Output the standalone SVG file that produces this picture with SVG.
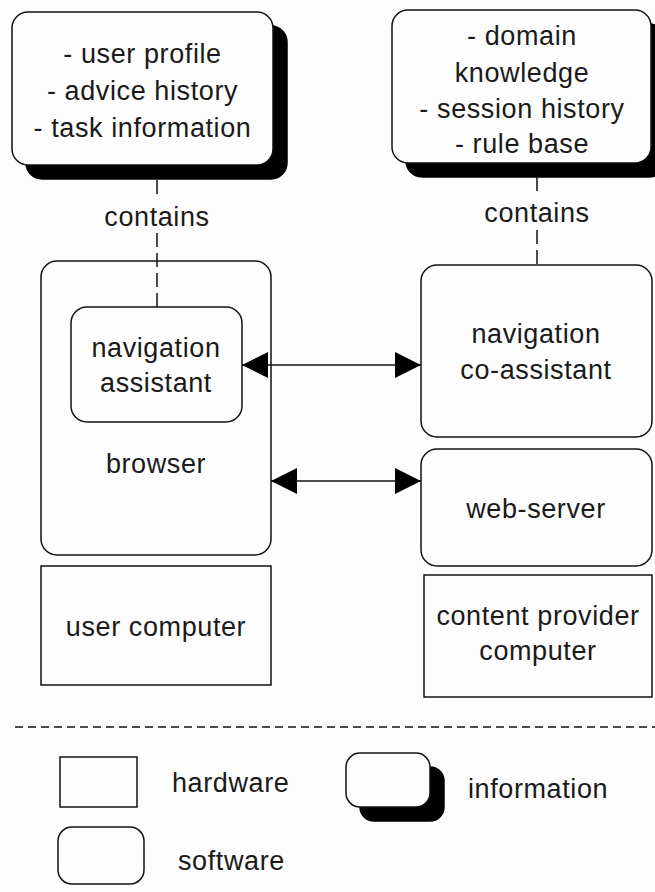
<svg xmlns="http://www.w3.org/2000/svg" width="655" height="892" viewBox="0 0 655 892">
<style>
.bg{fill:#fdfdfd}
.box{fill:#fdfdfd;stroke:#111;stroke-width:1.5}
.shadow{fill:#000;stroke:#000;stroke-width:1.5}
.t{font-family:"Liberation Sans",Arial,sans-serif;font-size:27px;fill:#1a1a1a;text-anchor:middle;letter-spacing:0.6px}
.tl{font-family:"Liberation Sans",Arial,sans-serif;font-size:27px;fill:#1a1a1a;letter-spacing:0.6px}
.dash{stroke:#111;stroke-width:1.5;stroke-dasharray:14 6;fill:none}
.arrow{stroke:#111;stroke-width:1.5;fill:none;marker-start:url(#ah);marker-end:url(#ah)}
</style>
<defs>
<marker id="ah" markerUnits="userSpaceOnUse" markerWidth="27" markerHeight="26" refX="26" refY="13" orient="auto-start-reverse">
<path d="M0,0 L26,13 L0,26 Z" fill="#000"/>
</marker>
</defs>
<rect class="bg" x="0" y="0" width="655" height="892"/>

<g id="info-user">
<rect class="shadow" x="26" y="26" width="261" height="153" rx="16"/>
<rect class="box" x="12" y="12" width="261" height="153" rx="16"/>
<text class="t" x="142.5" y="63">- user profile</text>
<text class="t" x="142.5" y="100">- advice history</text>
<text class="t" x="142.5" y="137">- task information</text>
</g>

<g id="info-provider">
<rect class="shadow" x="406" y="24" width="259" height="153" rx="16"/>
<rect class="box" x="392" y="10" width="259" height="153" rx="16"/>
<text class="t" x="522" y="45">- domain</text>
<text class="t" x="522" y="82">knowledge</text>
<text class="t" x="522" y="118">- session history</text>
<text class="t" x="522" y="153">- rule base</text>
</g>

<g id="browser">
<rect class="box" x="41" y="261" width="230" height="294" rx="16"/>
<text class="t" x="156" y="473">browser</text>
</g>

<g id="navigation-assistant">
<rect class="box" x="71" y="307" width="171" height="115" rx="16"/>
<text class="t" x="156" y="357">navigation</text>
<text class="t" x="156" y="392">assistant</text>
</g>

<g id="user-computer">
<rect class="box" x="41" y="566" width="230" height="119"/>
<text class="t" x="156" y="636">user computer</text>
</g>

<g id="navigation-co-assistant">
<rect class="box" x="421" y="265" width="231" height="172" rx="16"/>
<text class="t" x="536" y="343">navigation</text>
<text class="t" x="536" y="379">co-assistant</text>
</g>

<g id="web-server">
<rect class="box" x="421" y="449" width="231" height="117" rx="16"/>
<text class="t" x="536" y="518">web-server</text>
</g>

<g id="content-provider-computer">
<rect class="box" x="424" y="575" width="228" height="122"/>
<text class="t" x="538" y="625">content provider</text>
<text class="t" x="538" y="660">computer</text>
</g>

<g id="connectors">
<line class="dash" x1="157" y1="180" x2="157" y2="198"/>
<line class="dash" x1="157" y1="233" x2="157" y2="307"/>
<text class="t" x="157" y="226">contains</text>
<line class="dash" x1="537" y1="177" x2="537" y2="196"/>
<line class="dash" x1="537" y1="230" x2="537" y2="265"/>
<text class="t" x="537" y="222">contains</text>
<line class="arrow" x1="242" y1="365" x2="421" y2="365"/>
<line class="arrow" x1="271" y1="481" x2="421" y2="481"/>
</g>

<g id="legend">
<line x1="15" y1="727" x2="655" y2="727" stroke="#111" stroke-width="1.5" stroke-dasharray="8 5"/>
<rect class="box" x="60" y="757" width="77" height="50"/>
<text class="tl" x="172" y="792">hardware</text>
<rect class="box" x="58" y="827" width="86" height="57" rx="14"/>
<text class="tl" x="178" y="870">software</text>
<rect class="shadow" x="360" y="767" width="84" height="54" rx="14"/>
<rect class="box" x="346" y="753" width="84" height="54" rx="14"/>
<text class="tl" x="468" y="798">information</text>
</g>
</svg>
